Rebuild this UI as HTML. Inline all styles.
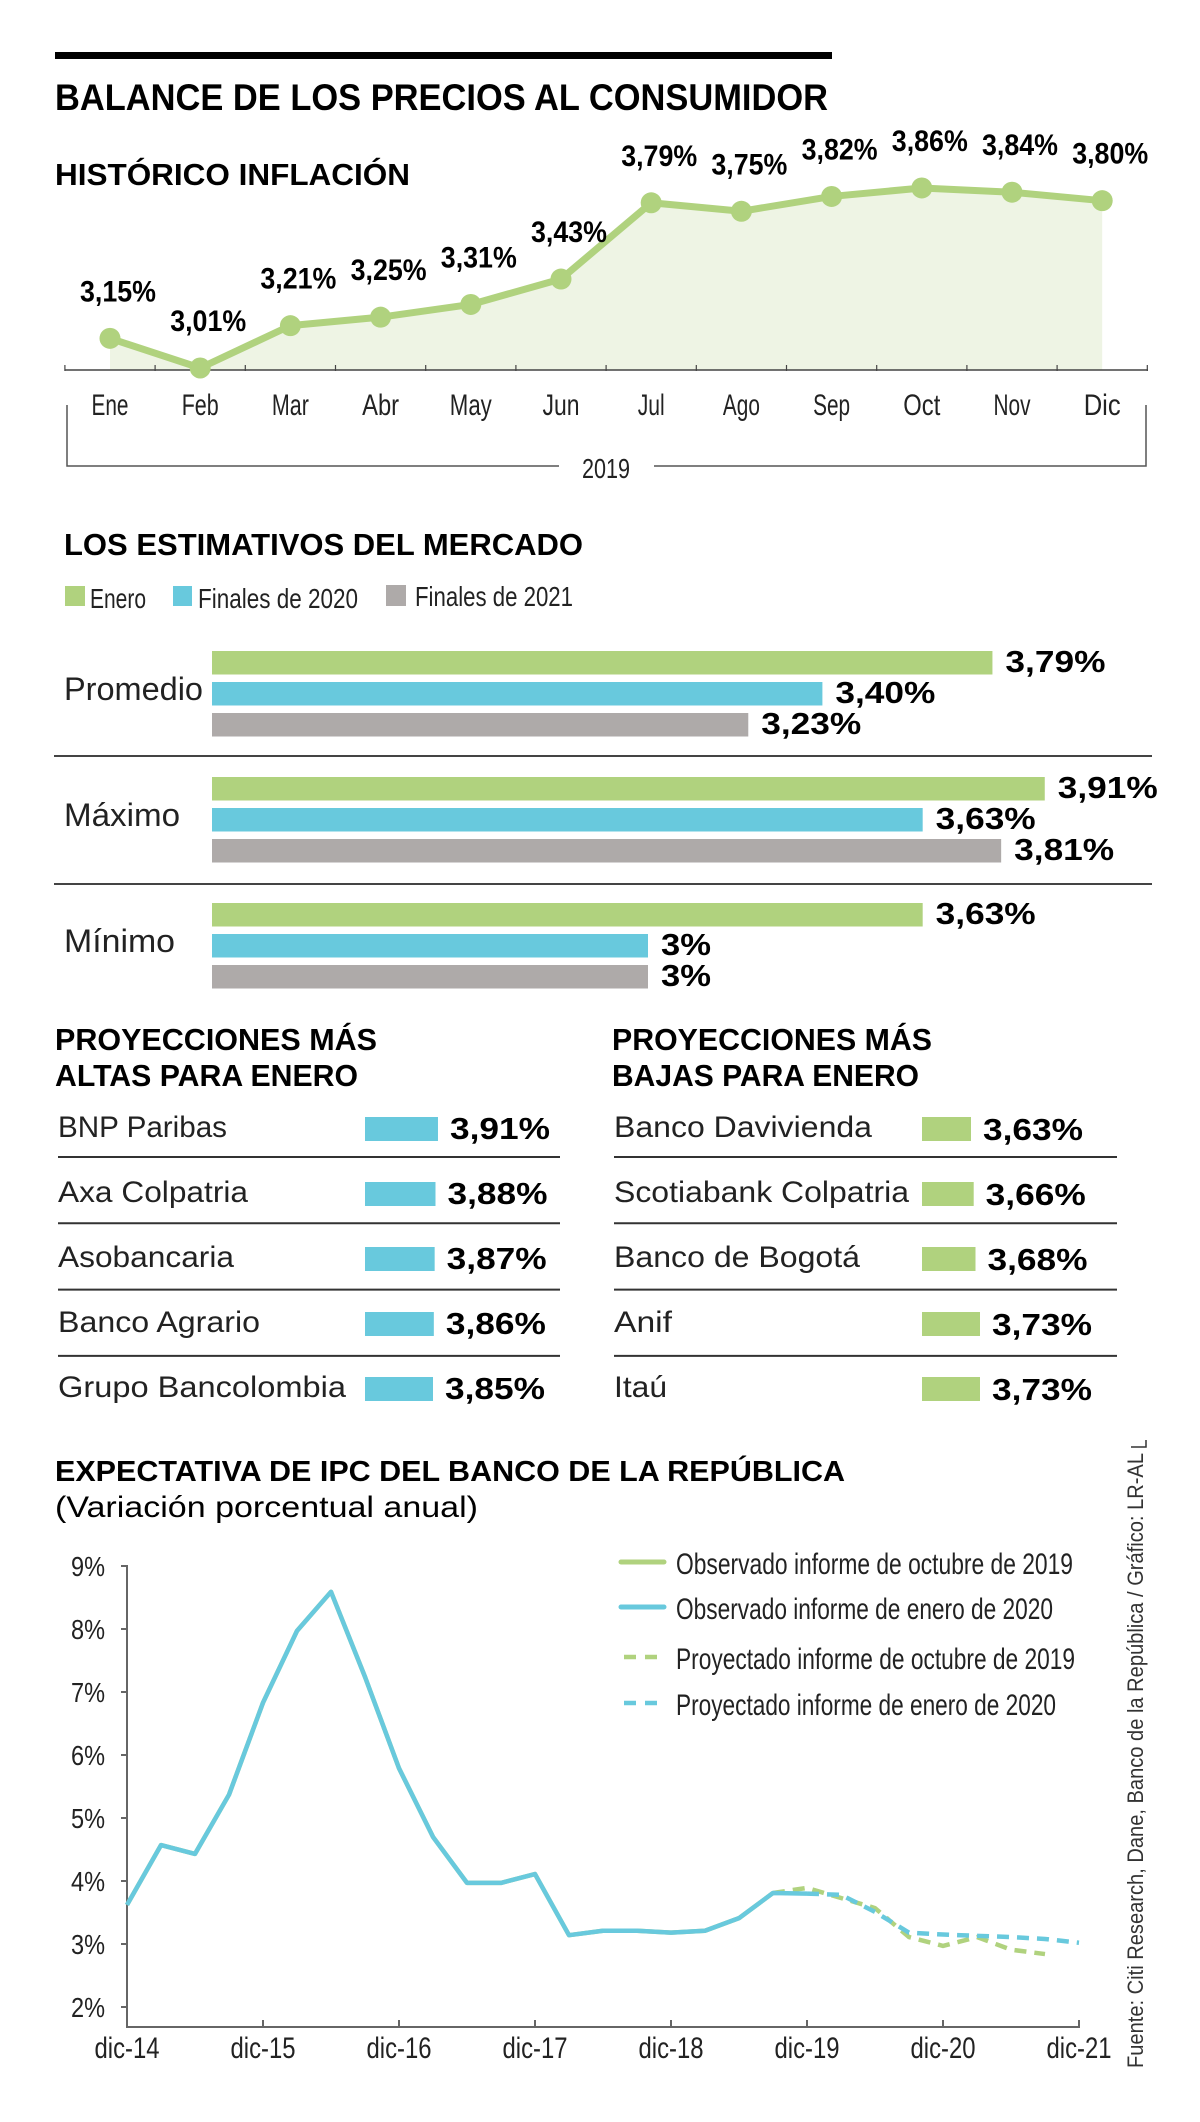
<!DOCTYPE html>
<html><head><meta charset="utf-8"><style>
html,body{margin:0;padding:0;background:#fff;}
svg{display:block;}
.t{font-family:"Liberation Sans Narrow","Liberation Sans",sans-serif;}
.b{font-weight:bold;}
</style></head><body>
<svg id="s" width="1200" height="2122" viewBox="0 0 1200 2122" xmlns="http://www.w3.org/2000/svg">
<rect x="55" y="52" width="777" height="7" fill="#000"/>
<text class="t b" x="55" y="110" font-size="37" textLength="773" lengthAdjust="spacingAndGlyphs">BALANCE DE LOS PRECIOS AL CONSUMIDOR</text>
<text class="t b" x="55" y="185" font-size="31" textLength="355" lengthAdjust="spacingAndGlyphs">HISTÓRICO INFLACIÓN</text>
<g id="c1"></g>
<path d="M67 405 V466 H559 M654 466 H1146 V405" fill="none" stroke="#555" stroke-width="1.5"/>
<text class="t" x="606" y="478" font-size="28" text-anchor="middle" fill="#222" textLength="48" lengthAdjust="spacingAndGlyphs">2019</text>

<text class="t b" x="64" y="555" font-size="31" textLength="519" lengthAdjust="spacingAndGlyphs">LOS ESTIMATIVOS DEL MERCADO</text>
<g>
<rect x="65" y="586" width="20" height="20" fill="#b0d27e"/>
<text class="t" x="90" y="608" font-size="28" textLength="56" lengthAdjust="spacingAndGlyphs" fill="#222">Enero</text>
<rect x="173" y="586" width="19" height="20" fill="#68c9dd"/>
<text class="t" x="198" y="608" font-size="28" textLength="160" lengthAdjust="spacingAndGlyphs" fill="#222">Finales de 2020</text>
<rect x="386" y="585" width="20" height="21" fill="#aeaaa9"/>
<text class="t" x="415" y="606" font-size="28" textLength="158" lengthAdjust="spacingAndGlyphs" fill="#222">Finales de 2021</text>
</g>
<g id="c2"></g>
<line x1="54" y1="756" x2="1152" y2="756" stroke="#444" stroke-width="2"/>
<line x1="54" y1="884" x2="1152" y2="884" stroke="#444" stroke-width="2"/>

<text class="t b" x="55" y="1050" font-size="31" textLength="322" lengthAdjust="spacingAndGlyphs">PROYECCIONES MÁS</text>
<text class="t b" x="55" y="1086" font-size="31" textLength="303" lengthAdjust="spacingAndGlyphs">ALTAS PARA ENERO</text>
<text class="t b" x="612" y="1050" font-size="31" textLength="320" lengthAdjust="spacingAndGlyphs">PROYECCIONES MÁS</text>
<text class="t b" x="612" y="1086" font-size="31" textLength="307" lengthAdjust="spacingAndGlyphs">BAJAS PARA ENERO</text>
<g id="c3"></g>
<path d="M1131 1447 H1146 V1440" fill="none" stroke="#333" stroke-width="1.5"/>

<text class="t b" x="55" y="1481" font-size="29" textLength="790" lengthAdjust="spacingAndGlyphs">EXPECTATIVA DE IPC DEL BANCO DE LA REPÚBLICA</text>
<text class="t" x="55" y="1517" font-size="30" textLength="423" lengthAdjust="spacingAndGlyphs">(Variación porcentual anual)</text>
<g id="c4"></g>
<text x="1143" y="2068" transform="rotate(-90 1143 2068)" font-family="Liberation Sans, sans-serif" font-size="22" textLength="615" lengthAdjust="spacingAndGlyphs" fill="#333">Fuente: Citi Research, Dane, Banco de la República / Gráfico: LR-AL</text>
</svg>
<script>
// ---------- Chart 1 data ----------
const months = ['Ene','Feb','Mar','Abr','May','Jun','Jul','Ago','Sep','Oct','Nov','Dic'];
const inflation = [3.15,3.01,3.21,3.25,3.31,3.43,3.79,3.75,3.82,3.86,3.84,3.80];
const inflationLabels = ['3,15%','3,01%','3,21%','3,25%','3,31%','3,43%','3,79%','3,75%','3,82%','3,86%','3,84%','3,80%'];
// ---------- Chart 2 data ----------
const groups = ['Promedio','Máximo','Mínimo'];
const enero = [3.79,3.91,3.63];
const fin2020 = [3.40,3.63,3.00];
const fin2021 = [3.23,3.81,3.00];
const eneroLabels = ['3,79%','3,91%','3,63%'];
const fin2020Labels = ['3,40%','3,63%','3%'];
const fin2021Labels = ['3,23%','3,81%','3%'];
// ---------- Tables data ----------
const highNames = ['BNP Paribas','Axa Colpatria','Asobancaria','Banco Agrario','Grupo Bancolombia'];
const highValues = [3.91,3.88,3.87,3.86,3.85];
const highLabels = ['3,91%','3,88%','3,87%','3,86%','3,85%'];
const lowNames = ['Banco Davivienda','Scotiabank Colpatria','Banco de Bogotá','Anif','Itaú'];
const lowValues = [3.63,3.66,3.68,3.73,3.73];
const lowLabels = ['3,63%','3,66%','3,68%','3,73%','3,73%'];
// ---------- Chart 4 data (quarterly from dic-14) ----------
const yTicks = [2,3,4,5,6,7,8,9];
const yTickLabels = ['2%','3%','4%','5%','6%','7%','8%','9%'];
const xTickLabels = ['dic-14','dic-15','dic-16','dic-17','dic-18','dic-19','dic-20','dic-21'];
const obsOct19 = [3.62,4.57,4.43,5.37,6.83,7.97,8.59,7.24,5.79,4.70,3.97,3.97,4.11,3.14,3.21,3.21,3.18,3.21,3.41,3.81];
const obsEne20 = [3.62,4.57,4.43,5.37,6.83,7.97,8.59,7.24,5.79,4.70,3.97,3.97,4.11,3.14,3.21,3.21,3.18,3.21,3.41,3.81,3.80];
const projOct19Start = 19;
const projOct19 = [3.81,3.89,3.73,3.57,3.11,2.97,3.11,2.91,2.84];
const projEne20Start = 20;
const projEne20 = [3.80,3.78,3.51,3.18,3.15,3.13,3.11,3.08,3.02];
const legend4 = ['Observado informe de octubre de 2019','Observado informe de enero de 2020','Proyectado informe de octubre de 2019','Proyectado informe de enero de 2020'];

const NS='http://www.w3.org/2000/svg';
function mk(parent,tag,attrs,txt){const e=document.createElementNS(NS,tag);for(const k in attrs)e.setAttribute(k,attrs[k]);if(txt!==undefined)e.textContent=txt;parent.appendChild(e);return e;}

// Chart 1
(function(){
const g=document.getElementById('c1');
const x=i=>110+i*90.2;
const y=v=>368-(v-3.01)*211.8;
let area='M'+x(0)+' 370';
inflation.forEach((v,i)=>{area+=' L'+x(i)+' '+y(v);});
area+=' L'+x(inflation.length-1)+' 370 Z';
const a=mk(g,'path',{d:area,fill:'#eef4e4'});


const ax=mk(g,'line',{x1:65,y1:370,x2:1148,y2:370,stroke:'#444','stroke-width':1.5});


for(let i=0;i<=months.length;i++){
  const tx=x(i)-45.1;
  const t=mk(g,'line',{x1:tx,y1:365,x2:tx,y2:371,stroke:'#444','stroke-width':1.2});
  
  
}
const pts=inflation.map((v,i)=>x(i)+','+y(v)).join(' ');
const ln=mk(g,'polyline',{points:pts,fill:'none',stroke:'#b0d27e','stroke-width':7,'stroke-linejoin':'round'});


inflation.forEach((v,i)=>{
  const c=mk(g,'circle',{cx:x(i),cy:y(v),r:10.5,fill:'#b0d27e'});
  
  
  const l=mk(g,'text',{x:x(i)+8,y:y(v)-37,'font-size':30,'text-anchor':'middle',class:'t b',textLength:76,lengthAdjust:'spacingAndGlyphs'},inflationLabels[i]);
  
  
  const mlen=months[i]==='Jul'?27:(months[i]==='May'?42:37);
  const m=mk(g,'text',{x:x(i),y:415,'font-size':30,'text-anchor':'middle',class:'t',fill:'#222',textLength:mlen,lengthAdjust:'spacingAndGlyphs'},months[i]);
  
  
});
})();

// Chart 2
(function(){
const g=document.getElementById('c2');
const w=v=>(v-2)*436;
const series=[[enero,eneroLabels,'#b0d27e','enero'],[fin2020,fin2020Labels,'#68c9dd','2020'],[fin2021,fin2021Labels,'#aeaaa9','2021']];
const widths=[139,116,111];
groups.forEach((gn,gi)=>{
  const top=651+gi*126;
  const lab=mk(g,'text',{x:64,y:top+49,'font-size':32,class:'t',fill:'#222',textLength:widths[gi],lengthAdjust:'spacingAndGlyphs'},gn);
  
  
  series.forEach((s,si)=>{
    const by=top+si*31;
    const bw=w(s[0][gi]);
    const r=mk(g,'rect',{x:212,y:by,width:bw,height:23.5,fill:s[2]});
    
    
    const tl=s[1][gi].length<=2?50:100;
    const t=mk(g,'text',{x:212+bw+13,y:by+21,'font-size':31,class:'b','font-family':'Liberation Sans, sans-serif',textLength:tl,lengthAdjust:'spacingAndGlyphs'},s[1][gi]);
    
    
  });
});
})();

// Tables
(function(){
const g=document.getElementById('c3');
const hw=[169,190,176,202,288];
const lw=[258,295,246,58,53];
for(let i=0;i<5;i++){
  const base=1137+i*65;
  const n=mk(g,'text',{x:58,y:base,'font-size':30,class:'t',fill:'#222',textLength:hw[i],lengthAdjust:'spacingAndGlyphs'},highNames[i]);
  
  
  const bw=68+(highValues[i]-3.85)*83;
  const r=mk(g,'rect',{x:365,y:1117+i*65,width:bw,height:24,fill:'#68c9dd'});
  
  
  const v=mk(g,'text',{x:365+bw+12,y:1117+i*65+22,'font-size':31,class:'b','font-family':'Liberation Sans, sans-serif',textLength:100,lengthAdjust:'spacingAndGlyphs'},highLabels[i]);
  
  
  const n2=mk(g,'text',{x:614,y:base,'font-size':30,class:'t',fill:'#222',textLength:lw[i],lengthAdjust:'spacingAndGlyphs'},lowNames[i]);
  
  
  const bw2=49+(lowValues[i]-3.63)*90;
  const r2=mk(g,'rect',{x:922,y:1117+i*65,width:bw2,height:24,fill:'#b0d27e'});
  
  
  const v2=mk(g,'text',{x:922+bw2+12,y:1117+i*65+23,'font-size':31,class:'b','font-family':'Liberation Sans, sans-serif',textLength:100,lengthAdjust:'spacingAndGlyphs'},lowLabels[i]);
  
  
  if(i<4){
    const yy=1157+i*66.3;
    const s1=mk(g,'line',{x1:58,y1:yy,x2:560,y2:yy,stroke:'#333','stroke-width':2});
    
    
    const s2=mk(g,'line',{x1:614,y1:yy,x2:1117,y2:yy,stroke:'#333','stroke-width':2});
    
    
  }
}
})();

// Chart 4
(function(){
const g=document.getElementById('c4');
const x=i=>127+i*34;
const y=v=>2007-(v-2)*63;
const ya=mk(g,'path',{d:'M'+(127-6)+' '+y(9)+' H127 V2027 H1079 V2020',fill:'none',stroke:'#666','stroke-width':2});


yTicks.forEach((v,i)=>{
  const t=mk(g,'line',{x1:121,y1:y(v),x2:127,y2:y(v),stroke:'#666','stroke-width':2});
  
  
  const l=mk(g,'text',{x:105,y:y(v)+10,'font-size':28,'text-anchor':'end',class:'t',fill:'#222',textLength:34,lengthAdjust:'spacingAndGlyphs'},yTickLabels[i]);
  
  
});
xTickLabels.forEach((s,i)=>{
  const xx=x(i*4);
  const t=mk(g,'line',{x1:xx,y1:2020,x2:xx,y2:2027,stroke:'#666','stroke-width':2});
  
  
  const l=mk(g,'text',{x:xx,y:2058,'font-size':30,'text-anchor':'middle',class:'t',fill:'#222',textLength:65,lengthAdjust:'spacingAndGlyphs'},s);
  
  
});
const poly=(arr,start)=>arr.map((v,i)=>x(start+i)+','+y(v)).join(' ');
const l1=mk(g,'polyline',{points:poly(obsOct19,0),fill:'none',stroke:'#b0d27e','stroke-width':4.5,'stroke-linejoin':'round'});


const l3=mk(g,'polyline',{points:poly(projOct19,projOct19Start),fill:'none',stroke:'#b0d27e','stroke-width':4.5,'stroke-dasharray':'12 8'});


const l4=mk(g,'polyline',{points:poly(projEne20,projEne20Start),fill:'none',stroke:'#68c9dd','stroke-width':4.5,'stroke-dasharray':'12 8'});


const l2=mk(g,'polyline',{points:poly(obsEne20,0),fill:'none',stroke:'#68c9dd','stroke-width':4.5,'stroke-linejoin':'round'});


const ly=[1562,1607,1657,1703];
const lc=['#b0d27e','#68c9dd','#b0d27e','#68c9dd'];
const lwid=[397,377,399,380];
legend4.forEach((s,i)=>{
  const sw=mk(g,'line',{x1:i<2?621:624,y1:ly[i],x2:664,y2:ly[i],stroke:lc[i],'stroke-width':i<2?5:4.5,'stroke-linecap':i<2?'round':'butt','stroke-dasharray':i<2?'none':'12 9'});
  
  
  const t=mk(g,'text',{x:676,y:ly[i]+12,'font-size':30,class:'t',fill:'#222',textLength:lwid[i],lengthAdjust:'spacingAndGlyphs'},s);
  
  
});
})();
</script>
</body></html>
